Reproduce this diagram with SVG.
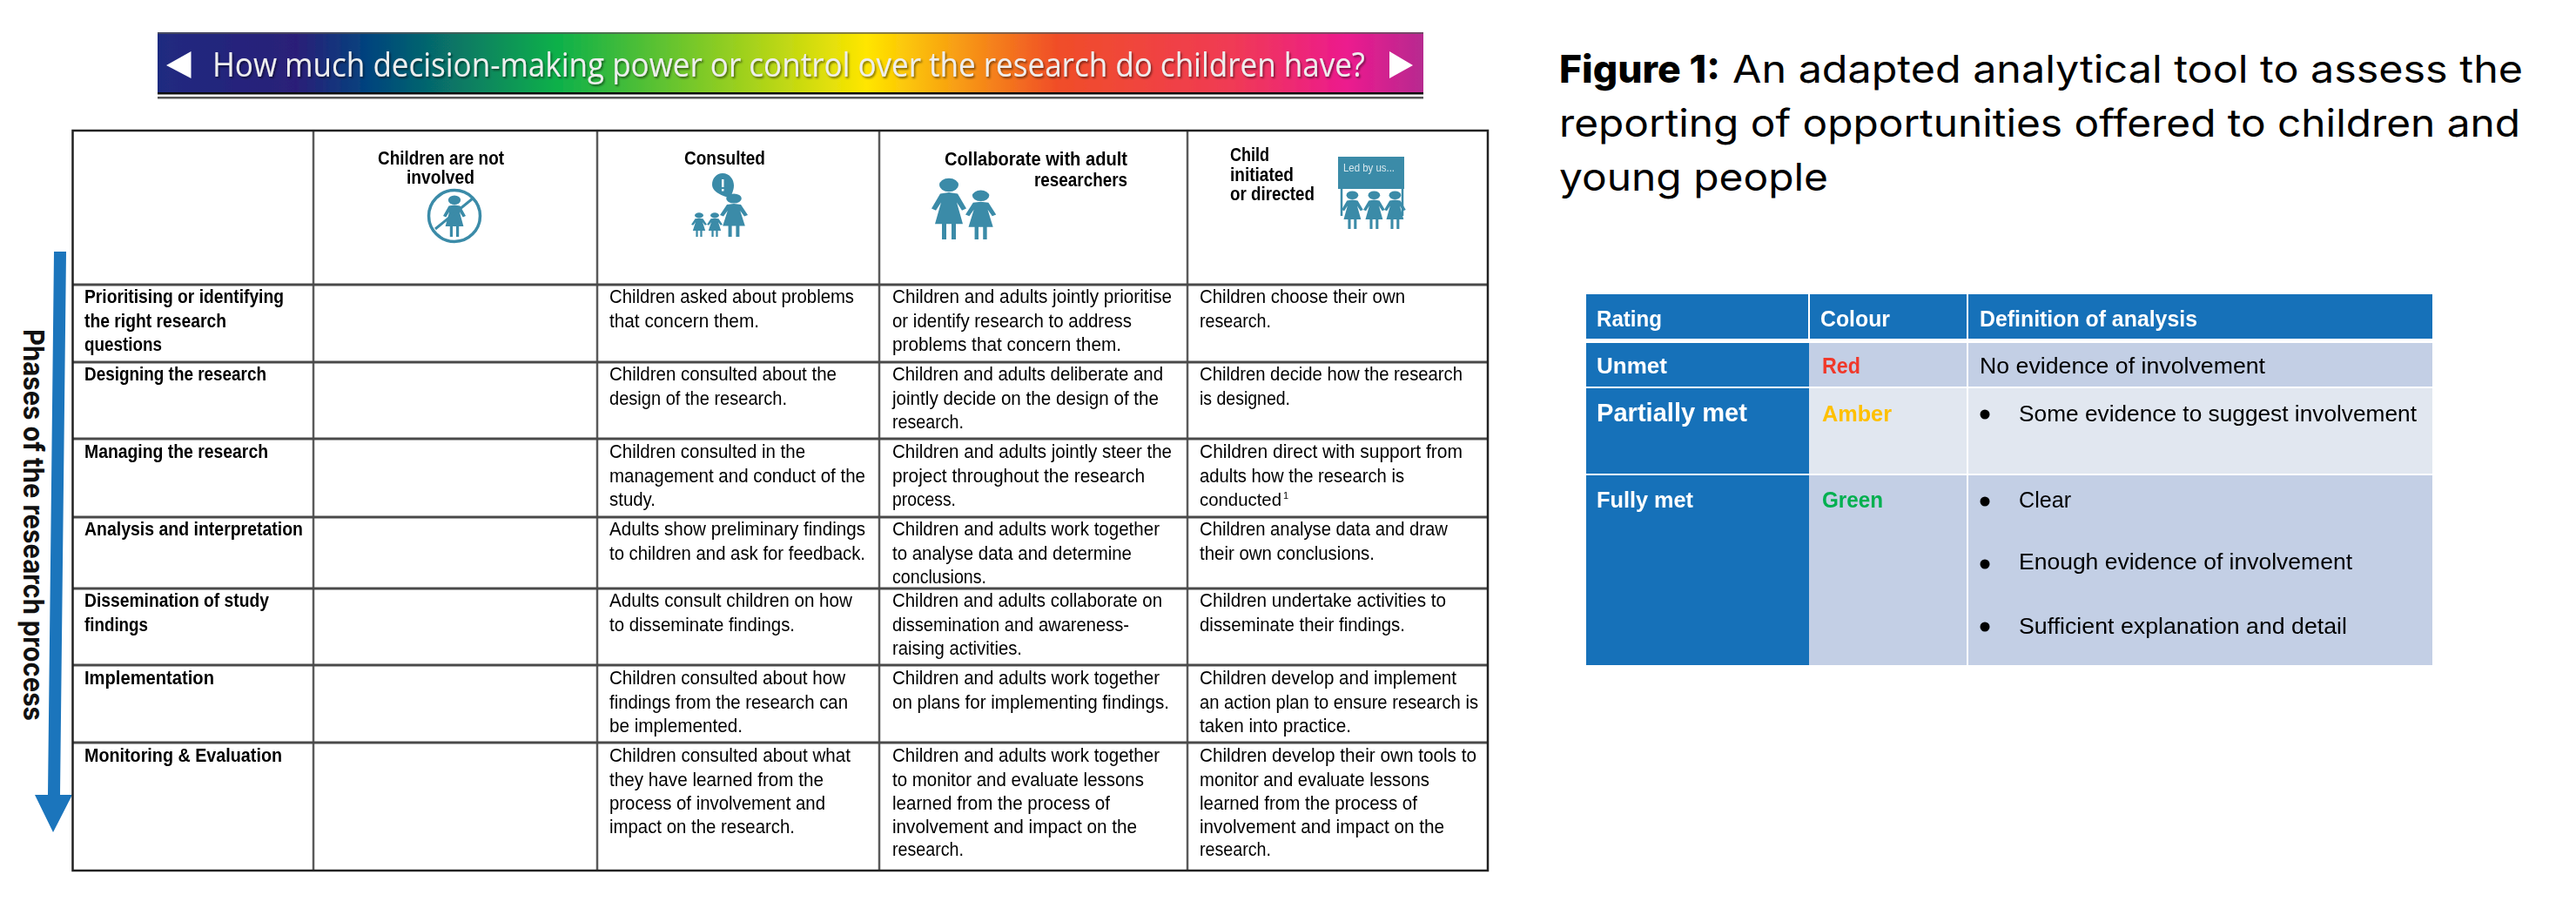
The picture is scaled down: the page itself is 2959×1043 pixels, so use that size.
<svg xmlns="http://www.w3.org/2000/svg" width="2959" height="1043" viewBox="0 0 2959 1043">
<style>
text{font-family:"Liberation Sans",Arial,sans-serif}
.b{font-size:22.5px;fill:#000}
.h{font-size:22px;font-weight:700;fill:#000}
.r{font-size:26px;fill:#000}
.w{font-size:26px;font-weight:700;fill:#fff}
.cap{font-family:Inter,"Liberation Sans",sans-serif;font-size:44px;fill:#000}
.grid{stroke:#4a4a4a;stroke-width:2.5;fill:none}
.icon{fill:#3b8ba8}
.soft{filter:url(#soft)}
</style>
<defs>
<filter id="soft" x="-2%" y="-2%" width="104%" height="104%"><feGaussianBlur stdDeviation="0.75"/></filter>
<filter id="bannerShadow" x="-2%" y="-20%" width="104%" height="140%"><feDropShadow dx="1.5" dy="2" stdDeviation="1" flood-color="#000" flood-opacity="0.5"/></filter>
<linearGradient id="rainbow" x1="0" y1="0" x2="1" y2="0">
<stop offset="0" stop-color="#1f2a80"/><stop offset="0.11" stop-color="#2a1f78"/><stop offset="0.165" stop-color="#03437e"/><stop offset="0.315" stop-color="#0cb04a"/><stop offset="0.56" stop-color="#ffe600"/><stop offset="0.71" stop-color="#f04e28"/><stop offset="0.85" stop-color="#f03a55"/><stop offset="0.94" stop-color="#ec1a8e"/><stop offset="1" stop-color="#b72a90"/>
</linearGradient>
<g id="girl"><circle cx="20" cy="12" r="11"/><path d="M20 24L30 26L40 50L35 53L29 40L36 75H28V100H23V75H17V100H12V75H4L11 40L5 53L0 50L10 26Z"/></g>
</defs>
<rect width="2959" height="1043" fill="#fff"/>

<g id="banner" class="soft">
<rect x="181" y="37" width="1454" height="71" fill="url(#rainbow)"/>
<rect x="181" y="37" width="1454" height="2" fill="#555" opacity="0.7"/>
<rect x="181" y="106" width="1454" height="2.5" fill="#111"/>
<rect x="181" y="111" width="1454" height="2.5" fill="#555"/>
<polygon points="191,75 219.500,59 219.500,90" fill="#fff"/>
<polygon points="1596,59 1623,75 1596,90" fill="#fff"/>
<text x="244" y="88" font-size="38" fill="#eeeeee" textLength="1324" lengthAdjust="spacingAndGlyphs" style="font-family:'Open Sans','Liberation Sans',sans-serif" filter="url(#bannerShadow)">How much decision-making power or control over the research do children have?</text>
</g>

<g id="connectors">
<polygon id="phases-arrow" points="62,289 76,289 69,913 83,913 61,956 40,913 55,913" fill="#1b75bc"/>
</g>
<g id="phases-label"><text transform="translate(27 378) rotate(90)" font-size="33" font-weight="700" fill="#111" textLength="450" lengthAdjust="spacingAndGlyphs" style="font-family:Inter,'Liberation Sans',sans-serif">Phases of the research process</text></g>

<g id="matrix" class="soft">
<g id="matrix-grid" class="grid">
<path d="M360 150V1000M686 150V1000M1010 150V1000M1364 150V1000" stroke="#5a5a5a"/>
<path d="M83 327H1709M83 416H1709M83 504H1709M83 594H1709M83 676H1709M83 764H1709M83 853H1709" stroke-width="3"/>
<path d="M83.500 150H1709V1000H83.500Z" stroke="#222"/>
</g>

<g id="head-not-involved">
<text class="h" x="434" y="189" textLength="145" lengthAdjust="spacingAndGlyphs">Children are not</text>
<text class="h" x="467" y="211" textLength="78" lengthAdjust="spacingAndGlyphs">involved</text>
<circle cx="522" cy="248" r="29.500" fill="none" stroke="#3b8ba8" stroke-width="3.500"/>
<use href="#girl" class="icon" transform="translate(509 224) scale(.65 .48)"/>
<line x1="500" y1="263" x2="543" y2="228" stroke="#3b8ba8" stroke-width="3"/>
</g>
<g id="head-consulted">
<text class="h" x="786" y="189" textLength="93" lengthAdjust="spacingAndGlyphs">Consulted</text>
<path class="icon" d="M830 199C838 199 843 206 843 213C843 220 839 224 840 228C834 226 818 222 818 212C818 205 823 199 830 199Z"/>
<rect x="829" y="206" width="2.500" height="9" fill="#fff"/><rect x="829" y="217" width="2.500" height="2.500" fill="#fff"/>
<use href="#girl" class="icon" transform="translate(827 222) scale(.8 .5)"/>
<use href="#girl" class="icon" transform="translate(794 244) scale(.45 .28)"/>
<use href="#girl" class="icon" transform="translate(812 244) scale(.45 .28)"/>
</g>
<g id="head-collaborate">
<text class="h" x="1085" y="190" textLength="210" lengthAdjust="spacingAndGlyphs">Collaborate with adult</text>
<text class="h" x="1188" y="214" textLength="107" lengthAdjust="spacingAndGlyphs">researchers</text>
<use href="#girl" class="icon" transform="translate(1070 204) scale(1 .71)"/>
<use href="#girl" class="icon" transform="translate(1109 218) scale(.88 .57)"/>
</g>
<g id="head-child-led">
<text class="h" x="1413" y="185" textLength="45" lengthAdjust="spacingAndGlyphs">Child</text>
<text class="h" x="1413" y="208" textLength="73" lengthAdjust="spacingAndGlyphs">initiated</text>
<text class="h" x="1413" y="230" textLength="97" lengthAdjust="spacingAndGlyphs">or directed</text>
<rect class="icon" x="1537" y="180" width="76" height="37"/>
<text x="1543" y="197" font-size="12" fill="#d8e8ee" textLength="59" lengthAdjust="spacingAndGlyphs">Led by us...</text>
<path d="M1541 217V248M1611 217V248" stroke="#3b8ba8" stroke-width="2.500"/>
<use href="#girl" class="icon" transform="translate(1541 219) scale(.62 .44)"/>
<use href="#girl" class="icon" transform="translate(1566 219) scale(.62 .44)"/>
<use href="#girl" class="icon" transform="translate(1590 219) scale(.62 .44)"/>
</g>

<g id="row-prioritising">
<text class="h" x="97" y="348" textLength="229" lengthAdjust="spacingAndGlyphs">Prioritising or identifying</text>
<text class="h" x="97" y="376" textLength="163" lengthAdjust="spacingAndGlyphs">the right research</text>
<text class="h" x="97" y="403" textLength="89" lengthAdjust="spacingAndGlyphs">questions</text>
<text class="b" x="700" y="348" textLength="281" lengthAdjust="spacingAndGlyphs">Children asked about problems</text>
<text class="b" x="700" y="376" textLength="172" lengthAdjust="spacingAndGlyphs">that concern them.</text>
<text class="b" x="1025" y="348" textLength="321" lengthAdjust="spacingAndGlyphs">Children and adults jointly prioritise</text>
<text class="b" x="1025" y="376" textLength="275" lengthAdjust="spacingAndGlyphs">or identify research to address</text>
<text class="b" x="1025" y="403" textLength="263" lengthAdjust="spacingAndGlyphs">problems that concern them.</text>
<text class="b" x="1378" y="348" textLength="236" lengthAdjust="spacingAndGlyphs">Children choose their own</text>
<text class="b" x="1378" y="376" textLength="82" lengthAdjust="spacingAndGlyphs">research.</text>
</g>
<g id="row-designing">
<text class="h" x="97" y="437" textLength="209" lengthAdjust="spacingAndGlyphs">Designing the research</text>
<text class="b" x="700" y="437" textLength="261" lengthAdjust="spacingAndGlyphs">Children consulted about the</text>
<text class="b" x="700" y="465" textLength="204" lengthAdjust="spacingAndGlyphs">design of the research.</text>
<text class="b" x="1025" y="437" textLength="311" lengthAdjust="spacingAndGlyphs">Children and adults deliberate and</text>
<text class="b" x="1025" y="465" textLength="306" lengthAdjust="spacingAndGlyphs">jointly decide on the design of the</text>
<text class="b" x="1025" y="492" textLength="82" lengthAdjust="spacingAndGlyphs">research.</text>
<text class="b" x="1378" y="437" textLength="302" lengthAdjust="spacingAndGlyphs">Children decide how the research</text>
<text class="b" x="1378" y="465" textLength="104" lengthAdjust="spacingAndGlyphs">is designed.</text>
</g>
<g id="row-managing">
<text class="h" x="97" y="526" textLength="211" lengthAdjust="spacingAndGlyphs">Managing the research</text>
<text class="b" x="700" y="526" textLength="225" lengthAdjust="spacingAndGlyphs">Children consulted in the</text>
<text class="b" x="700" y="554" textLength="294" lengthAdjust="spacingAndGlyphs">management and conduct of the</text>
<text class="b" x="700" y="581" textLength="53" lengthAdjust="spacingAndGlyphs">study.</text>
<text class="b" x="1025" y="526" textLength="321" lengthAdjust="spacingAndGlyphs">Children and adults jointly steer the</text>
<text class="b" x="1025" y="554" textLength="290" lengthAdjust="spacingAndGlyphs">project throughout the research</text>
<text class="b" x="1025" y="581" textLength="73" lengthAdjust="spacingAndGlyphs">process.</text>
<text class="b" x="1378" y="526" textLength="302" lengthAdjust="spacingAndGlyphs">Children direct with support from</text>
<text class="b" x="1378" y="554" textLength="235" lengthAdjust="spacingAndGlyphs">adults how the research is</text>
<text class="b" x="1378" y="581" style="font-size:20.500px" textLength="94" lengthAdjust="spacingAndGlyphs">conducted</text>
<text x="1474" y="573" font-size="11" fill="#000">1</text>
</g>
<g id="row-analysis">
<text class="h" x="97" y="615" textLength="251" lengthAdjust="spacingAndGlyphs">Analysis and interpretation</text>
<text class="b" x="700" y="615" textLength="294" lengthAdjust="spacingAndGlyphs">Adults show preliminary findings</text>
<text class="b" x="700" y="643" textLength="294" lengthAdjust="spacingAndGlyphs">to children and ask for feedback.</text>
<text class="b" x="1025" y="615" textLength="307" lengthAdjust="spacingAndGlyphs">Children and adults work together</text>
<text class="b" x="1025" y="643" textLength="275" lengthAdjust="spacingAndGlyphs">to analyse data and determine</text>
<text class="b" x="1025" y="670" textLength="108" lengthAdjust="spacingAndGlyphs">conclusions.</text>
<text class="b" x="1378" y="615" textLength="285" lengthAdjust="spacingAndGlyphs">Children analyse data and draw</text>
<text class="b" x="1378" y="643" textLength="201" lengthAdjust="spacingAndGlyphs">their own conclusions.</text>
</g>
<g id="row-dissemination">
<text class="h" x="97" y="697" textLength="212" lengthAdjust="spacingAndGlyphs">Dissemination of study</text>
<text class="h" x="97" y="725" textLength="73" lengthAdjust="spacingAndGlyphs">findings</text>
<text class="b" x="700" y="697" textLength="279" lengthAdjust="spacingAndGlyphs">Adults consult children on how</text>
<text class="b" x="700" y="725" textLength="213" lengthAdjust="spacingAndGlyphs">to disseminate findings.</text>
<text class="b" x="1025" y="697" textLength="310" lengthAdjust="spacingAndGlyphs">Children and adults collaborate on</text>
<text class="b" x="1025" y="725" textLength="272" lengthAdjust="spacingAndGlyphs">dissemination and awareness-</text>
<text class="b" x="1025" y="752" textLength="149" lengthAdjust="spacingAndGlyphs">raising activities.</text>
<text class="b" x="1378" y="697" textLength="283" lengthAdjust="spacingAndGlyphs">Children undertake activities to</text>
<text class="b" x="1378" y="725" textLength="236" lengthAdjust="spacingAndGlyphs">disseminate their findings.</text>
</g>
<g id="row-implementation">
<text class="h" x="97" y="786" textLength="149" lengthAdjust="spacingAndGlyphs">Implementation</text>
<text class="b" x="700" y="786" textLength="271" lengthAdjust="spacingAndGlyphs">Children consulted about how</text>
<text class="b" x="700" y="814" textLength="274" lengthAdjust="spacingAndGlyphs">findings from the research can</text>
<text class="b" x="700" y="841" textLength="153" lengthAdjust="spacingAndGlyphs">be implemented.</text>
<text class="b" x="1025" y="786" textLength="307" lengthAdjust="spacingAndGlyphs">Children and adults work together</text>
<text class="b" x="1025" y="814" textLength="318" lengthAdjust="spacingAndGlyphs">on plans for implementing findings.</text>
<text class="b" x="1378" y="786" textLength="295" lengthAdjust="spacingAndGlyphs">Children develop and implement</text>
<text class="b" x="1378" y="814" textLength="320" lengthAdjust="spacingAndGlyphs">an action plan to ensure research is</text>
<text class="b" x="1378" y="841" textLength="174" lengthAdjust="spacingAndGlyphs">taken into practice.</text>
</g>
<g id="row-monitoring">
<text class="h" x="97" y="875" textLength="227" lengthAdjust="spacingAndGlyphs">Monitoring &amp; Evaluation</text>
<text class="b" x="700" y="875" textLength="277" lengthAdjust="spacingAndGlyphs">Children consulted about what</text>
<text class="b" x="700" y="903" textLength="246" lengthAdjust="spacingAndGlyphs">they have learned from the</text>
<text class="b" x="700" y="930" textLength="248" lengthAdjust="spacingAndGlyphs">process of involvement and</text>
<text class="b" x="700" y="957" textLength="213" lengthAdjust="spacingAndGlyphs">impact on the research.</text>
<text class="b" x="1025" y="875" textLength="307" lengthAdjust="spacingAndGlyphs">Children and adults work together</text>
<text class="b" x="1025" y="903" textLength="289" lengthAdjust="spacingAndGlyphs">to monitor and evaluate lessons</text>
<text class="b" x="1025" y="930" textLength="250" lengthAdjust="spacingAndGlyphs">learned from the process of</text>
<text class="b" x="1025" y="957" textLength="281" lengthAdjust="spacingAndGlyphs">involvement and impact on the</text>
<text class="b" x="1025" y="983" textLength="82" lengthAdjust="spacingAndGlyphs">research.</text>
<text class="b" x="1378" y="875" textLength="318" lengthAdjust="spacingAndGlyphs">Children develop their own tools to</text>
<text class="b" x="1378" y="903" textLength="264" lengthAdjust="spacingAndGlyphs">monitor and evaluate lessons</text>
<text class="b" x="1378" y="930" textLength="250" lengthAdjust="spacingAndGlyphs">learned from the process of</text>
<text class="b" x="1378" y="957" textLength="281" lengthAdjust="spacingAndGlyphs">involvement and impact on the</text>
<text class="b" x="1378" y="983" textLength="82" lengthAdjust="spacingAndGlyphs">research.</text>
</g>
</g>

<g id="caption">
<text class="cap" x="1791" y="95" font-weight="800" textLength="185" lengthAdjust="spacingAndGlyphs">Figure 1:</text>
<text class="cap" x="1990" y="95" textLength="908" lengthAdjust="spacingAndGlyphs">An adapted analytical tool to assess the</text>
<text class="cap" x="1791" y="157" textLength="1104" lengthAdjust="spacingAndGlyphs">reporting of opportunities offered to children and</text>
<text class="cap" x="1791" y="219" textLength="309" lengthAdjust="spacingAndGlyphs">young people</text>
</g>

<g id="rating-table" class="soft">
<g id="rating-header">
<rect x="1822" y="338" width="972" height="51" fill="#1771b9"/>
<text class="w" x="1834" y="375" textLength="75" lengthAdjust="spacingAndGlyphs">Rating</text>
<text class="w" x="2091" y="375" textLength="80" lengthAdjust="spacingAndGlyphs">Colour</text>
<text class="w" x="2274" y="375" textLength="250" lengthAdjust="spacingAndGlyphs">Definition of analysis</text>
</g>
<g id="rating-unmet">
<rect x="1822" y="394" width="256" height="50" fill="#1771b9"/>
<rect x="2078" y="394" width="716" height="50" fill="#c3cfe5"/>
<text class="w" x="1834" y="429" textLength="81" lengthAdjust="spacingAndGlyphs">Unmet</text>
<text class="r" x="2093" y="429" font-weight="700" style="fill:#f0392b" textLength="44" lengthAdjust="spacingAndGlyphs">Red</text>
<text class="r" x="2274" y="429" textLength="328" lengthAdjust="spacingAndGlyphs">No evidence of involvement</text>
</g>
<g id="rating-partial">
<rect x="1822" y="446" width="256" height="98" fill="#1771b9"/>
<rect x="2078" y="446" width="716" height="98" fill="#e1e7f0"/>
<text class="w" x="1834" y="484" style="font-size:29px" textLength="173" lengthAdjust="spacingAndGlyphs">Partially met</text>
<text class="r" x="2093" y="484" font-weight="700" style="fill:#ffc000" textLength="80" lengthAdjust="spacingAndGlyphs">Amber</text>
<circle cx="2280" cy="476" r="5.500" fill="#000"/>
<text class="r" x="2319" y="484" textLength="457" lengthAdjust="spacingAndGlyphs">Some evidence to suggest involvement</text>
</g>
<g id="rating-full">
<rect x="1822" y="546" width="256" height="218" fill="#1771b9"/>
<rect x="2078" y="546" width="716" height="218" fill="#c3cfe5"/>
<text class="w" x="1834" y="583" textLength="111" lengthAdjust="spacingAndGlyphs">Fully met</text>
<text class="r" x="2093" y="583" font-weight="700" style="fill:#00b050" textLength="70" lengthAdjust="spacingAndGlyphs">Green</text>
<circle cx="2280" cy="576" r="5.500" fill="#000"/>
<text class="r" x="2319" y="583" textLength="60" lengthAdjust="spacingAndGlyphs">Clear</text>
<circle cx="2280" cy="648" r="5.500" fill="#000"/>
<text class="r" x="2319" y="654" textLength="383" lengthAdjust="spacingAndGlyphs">Enough evidence of involvement</text>
<circle cx="2280" cy="720" r="5.500" fill="#000"/>
<text class="r" x="2319" y="728" textLength="377" lengthAdjust="spacingAndGlyphs">Sufficient explanation and detail</text>
</g>
<path d="M2078 338V389M2260 338V764" stroke="#fff" stroke-width="2" fill="none"/>
</g>
</svg>
